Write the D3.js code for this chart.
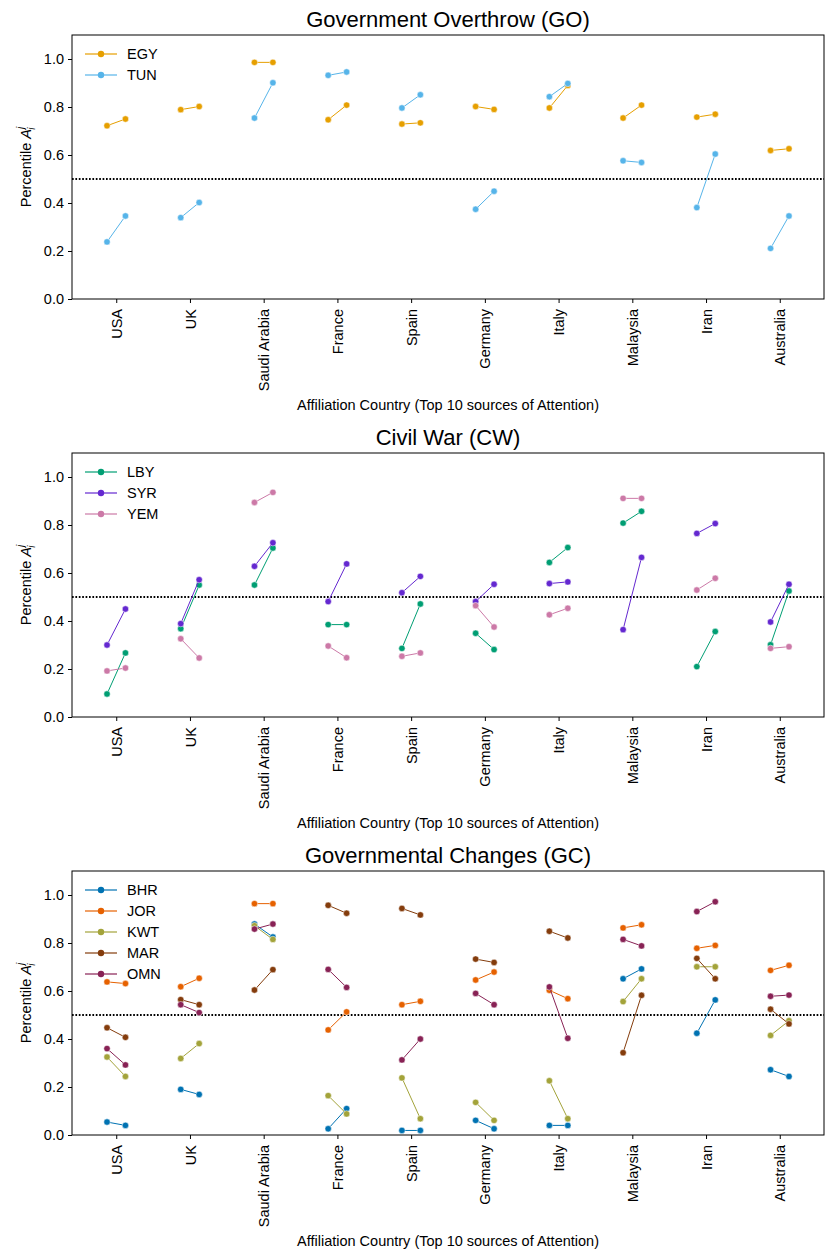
<!DOCTYPE html>
<html><head><meta charset="utf-8">
<script src="https://cdn.jsdelivr.net/npm/d3@7"></script>
<style>body{margin:0;background:#fff;} text{font-family:"Liberation Sans",Arial,sans-serif;}</style>
</head><body><svg id="c" width="825" height="1251"></svg>
<script>
const countries = ["USA","UK","Saudi Arabia","France","Spain","Germany","Italy","Malaysia","Iran","Australia"];
const yTicks = [0,0.2,0.4,0.6,0.8,1.0];

// Government Overthrow (GO): [before, after] per country
const goEGY = [[0.722,0.750],[0.789,0.802],[0.986,0.986],[0.747,0.808],[0.729,0.734],[0.802,0.790],[0.796,0.890],[0.754,0.808],[0.758,0.770],[0.619,0.626]];
const goTUN = [[0.238,0.346],[0.339,0.402],[0.754,0.901],[0.932,0.946],[0.796,0.851],[0.374,0.449],[0.843,0.898],[0.576,0.569],[0.381,0.604],[0.211,0.346]];

// Civil War (CW)
const cwLBY = [[0.096,0.267],[0.368,0.550],[0.550,0.704],[0.385,0.385],[0.286,0.471],[0.349,0.281],[0.644,0.706],[0.808,0.857],[0.210,0.356],[0.301,0.525]];
const cwSYR = [[0.300,0.450],[0.389,0.572],[0.628,0.726],[0.481,0.638],[0.518,0.586],[0.481,0.553],[0.556,0.563],[0.364,0.665],[0.765,0.806],[0.396,0.553]];
const cwYEM = [[0.192,0.204],[0.326,0.246],[0.894,0.936],[0.296,0.247],[0.253,0.267],[0.464,0.375],[0.426,0.453],[0.911,0.911],[0.529,0.578],[0.286,0.293]];

// Governmental Changes (GC)
const gcBHR = [[0.054,0.040],[0.190,0.169],[0.879,0.825],[0.026,0.110],[0.019,0.019],[0.061,0.026],[0.040,0.040],[0.651,0.692],[0.424,0.563],[0.272,0.244]];
const gcJOR = [[0.638,0.631],[0.618,0.653],[0.964,0.964],[0.438,0.513],[0.543,0.557],[0.646,0.679],[0.603,0.568],[0.863,0.876],[0.778,0.790],[0.686,0.707]];
const gcKWT = [[0.325,0.244],[0.319,0.381],[0.872,0.815],[0.164,0.088],[0.238,0.068],[0.136,0.061],[0.226,0.068],[0.556,0.651],[0.701,0.701],[0.415,0.476]];
const gcMAR = [[0.447,0.407],[0.564,0.543],[0.604,0.689],[0.957,0.924],[0.944,0.917],[0.733,0.719],[0.849,0.821],[0.343,0.582],[0.736,0.651],[0.524,0.463]];
const gcOMN = [[0.360,0.292],[0.543,0.510],[0.858,0.879],[0.690,0.615],[0.313,0.400],[0.590,0.543],[0.617,0.403],[0.815,0.788],[0.931,0.972],[0.578,0.583]];

const panels = [
  {title:"Government Overthrow (GO)", top:35, series:[
    {name:"EGY", color:"#E69F00", data:goEGY},
    {name:"TUN", color:"#56B4E9", data:goTUN}]},
  {title:"Civil War (CW)", top:453, series:[
    {name:"LBY", color:"#009E73", data:cwLBY},
    {name:"SYR", color:"#6428D0", data:cwSYR},
    {name:"YEM", color:"#CC79A7", data:cwYEM}]},
  {title:"Governmental Changes (GC)", top:871, series:[
    {name:"BHR", color:"#0072B2", data:gcBHR},
    {name:"JOR", color:"#E66100", data:gcJOR},
    {name:"KWT", color:"#A3A33A", data:gcKWT},
    {name:"MAR", color:"#843C0C", data:gcMAR},
    {name:"OMN", color:"#882255", data:gcOMN}]}
];

const svg = d3.select("#c");
const L = 72, R = 824, H = 264;
const FS = 14.5;
const x = d3.scaleLinear().domain([-0.6, 9.6]).range([L, R]);
const off = 0.125;

panels.forEach(p => {
  const g = svg.append("g");
  const y = d3.scaleLinear().domain([0, 1.1]).range([p.top + H, p.top]);

  g.append("text").attr("x", (L+R)/2).attr("y", p.top - 8).attr("text-anchor","middle")
    .attr("font-size", 22).text(p.title);

  g.append("line").attr("x1", L).attr("x2", R).attr("y1", y(0.5)).attr("y2", y(0.5))
    .attr("stroke","#000").attr("stroke-width",1.8).attr("stroke-dasharray","1.7,1.7");

  p.series.forEach(s => {
    s.data.forEach((d, i) => {
      const pts = [[x(i - off), y(d[0])], [x(i + off), y(d[1])]];
      g.append("path").attr("d", d3.line()(pts)).attr("stroke", s.color)
        .attr("stroke-width", 1).attr("fill","none");
      pts.forEach(pt => g.append("circle").attr("cx", pt[0]).attr("cy", pt[1]).attr("r", 3.2)
        .attr("fill", s.color).attr("stroke","#fff").attr("stroke-width",0.5));
    });
  });

  const xa = d3.axisBottom(x).tickValues(d3.range(countries.length)).tickFormat(i => countries[i]).tickSize(4).tickPadding(3);
  const xg = g.append("g").attr("transform", `translate(0,${p.top + H})`).call(xa);
  xg.select(".domain").remove();
  xg.selectAll("text").attr("font-size", FS).attr("fill","#000")
    .attr("transform","rotate(-90)").attr("text-anchor","end")
    .attr("x", -10).attr("y", 0).attr("dy", "0.35em");
  xg.selectAll("line").attr("stroke","#000");

  const ya = d3.axisLeft(y).tickValues(yTicks).tickFormat(d3.format(".1f")).tickSize(4).tickPadding(4);
  const yg = g.append("g").attr("transform", `translate(${L},0)`).call(ya);
  yg.select(".domain").remove();
  yg.selectAll("text").attr("font-size", FS).attr("fill","#000");
  yg.selectAll("line").attr("stroke","#000");

  g.append("rect").attr("x", L).attr("y", p.top).attr("width", R - L).attr("height", H)
    .attr("fill","none").attr("stroke","#000").attr("stroke-width",1);

  const yl = g.append("text").attr("transform", `translate(31,${p.top + H/2}) rotate(-90)`)
    .attr("text-anchor","middle").attr("font-size", FS);
  yl.append("tspan").text("Percentile ");
  yl.append("tspan").attr("font-style","italic").text("A");
  yl.append("tspan").attr("font-style","italic").attr("font-size",10).attr("dy",-7).text("j");
  yl.append("tspan").attr("font-style","italic").attr("font-size",10).attr("dx",-3).attr("dy",11).text("i");

  g.append("text").attr("x", (L+R)/2).attr("y", p.top + H + 111).attr("text-anchor","middle")
    .attr("font-size", FS).text("Affiliation Country (Top 10 sources of Attention)");

  p.series.forEach((s, k) => {
    const ly = p.top + 19 + k * 21;
    g.append("line").attr("x1", 85).attr("x2", 117).attr("y1", ly).attr("y2", ly)
      .attr("stroke", s.color).attr("stroke-width", 2).attr("stroke-opacity", 0.6);
    g.append("circle").attr("cx", 101).attr("cy", ly).attr("r", 3.2).attr("fill", s.color);
    g.append("text").attr("x", 127).attr("y", ly).attr("dy","0.35em").attr("font-size", FS).text(s.name);
  });
});
</script></body></html>
